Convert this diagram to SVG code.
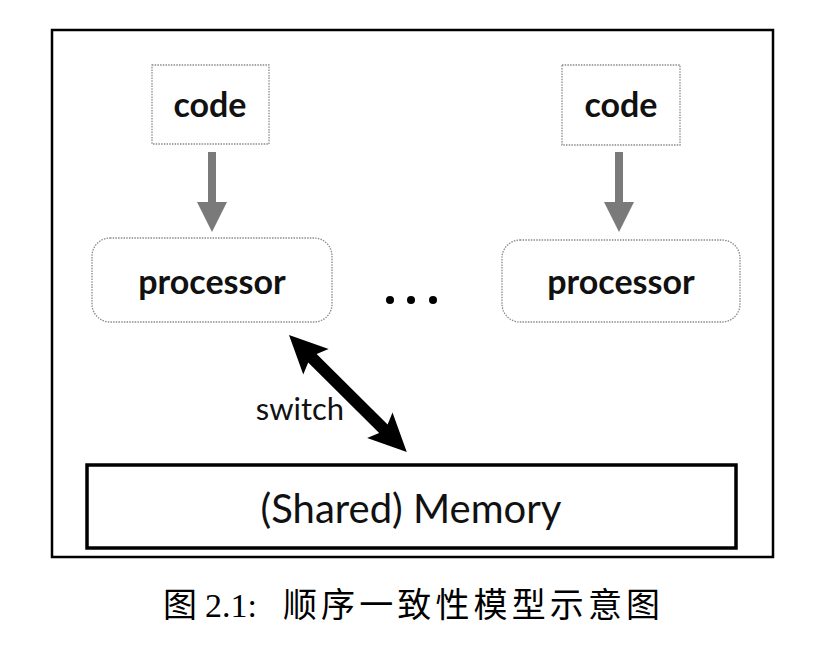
<svg xmlns="http://www.w3.org/2000/svg" width="820" height="664" viewBox="0 0 820 664">
<style>
.frame{fill:none;stroke:#000;stroke-width:2.5}
.code{fill:#fff;stroke:#8a8a8a;stroke-width:1.3;stroke-dasharray:1.5 1.2}
.proc{fill:#fff;stroke:#8a8a8a;stroke-width:1.3;stroke-dasharray:1.5 1.2}
.mem{fill:#fff;stroke:#000;stroke-width:3.5}
.lbl{font-family:Lato,"Liberation Sans",sans-serif;fill:#111;text-anchor:middle}
.b{font-weight:bold;font-size:34px}
.gray{fill:#7a7a7a}
.blk{fill:#000}
.cap{font-family:"Liberation Serif","Noto Sans CJK SC",serif;font-size:34px;fill:#000}
</style>
<rect width="820" height="664" fill="#fff"/>
<rect class="frame" x="52" y="30" width="721" height="527"/>
<g id="code1">
<rect class="code" x="152" y="65" width="117" height="79"/>
<text class="lbl b" x="210" y="117">code</text>
</g>
<g id="code2">
<rect class="code" x="562" y="65" width="118" height="80"/>
<text class="lbl b" x="621" y="117">code</text>
</g>
<g id="proc1">
<rect class="proc" x="92" y="238" width="240" height="84" rx="18"/>
<text class="lbl b" x="212" y="294">processor</text>
</g>
<g id="proc2">
<rect class="proc" x="502" y="240" width="238" height="82" rx="18"/>
<text class="lbl b" x="621" y="294">processor</text>
</g>
<g id="dots">
<circle cx="390" cy="300" r="4"/>
<circle cx="411" cy="300" r="4"/>
<circle cx="433" cy="300" r="4"/>
</g>
<g id="memory">
<rect class="mem" x="87" y="465" width="649" height="83"/>
<text class="lbl" x="411" y="523" font-size="40">(Shared) Memory</text>
</g>
<g id="connectors">
<polygon class="gray" points="208,152 216,152 216,202 227,202 212,232 197,202 208,202"/>
<polygon class="gray" points="615,152 623,152 623,202 634,202 619,232 604,202 615,202"/>
<g transform="translate(289,335) rotate(44.8)">
<polygon class="blk" points="0,0 38,-18 33,-6 133,-6 128,-18 166,0 128,18 133,6 33,6 38,18"/>
</g>
<text class="lbl" x="300" y="420" font-size="31">switch</text>
</g>
<text class="cap" y="617"><tspan x="163">图</tspan><tspan x="205">2.1:</tspan><tspan x="283" textLength="377" lengthAdjust="spacing">顺序一致性模型示意图</tspan></text>
</svg>
